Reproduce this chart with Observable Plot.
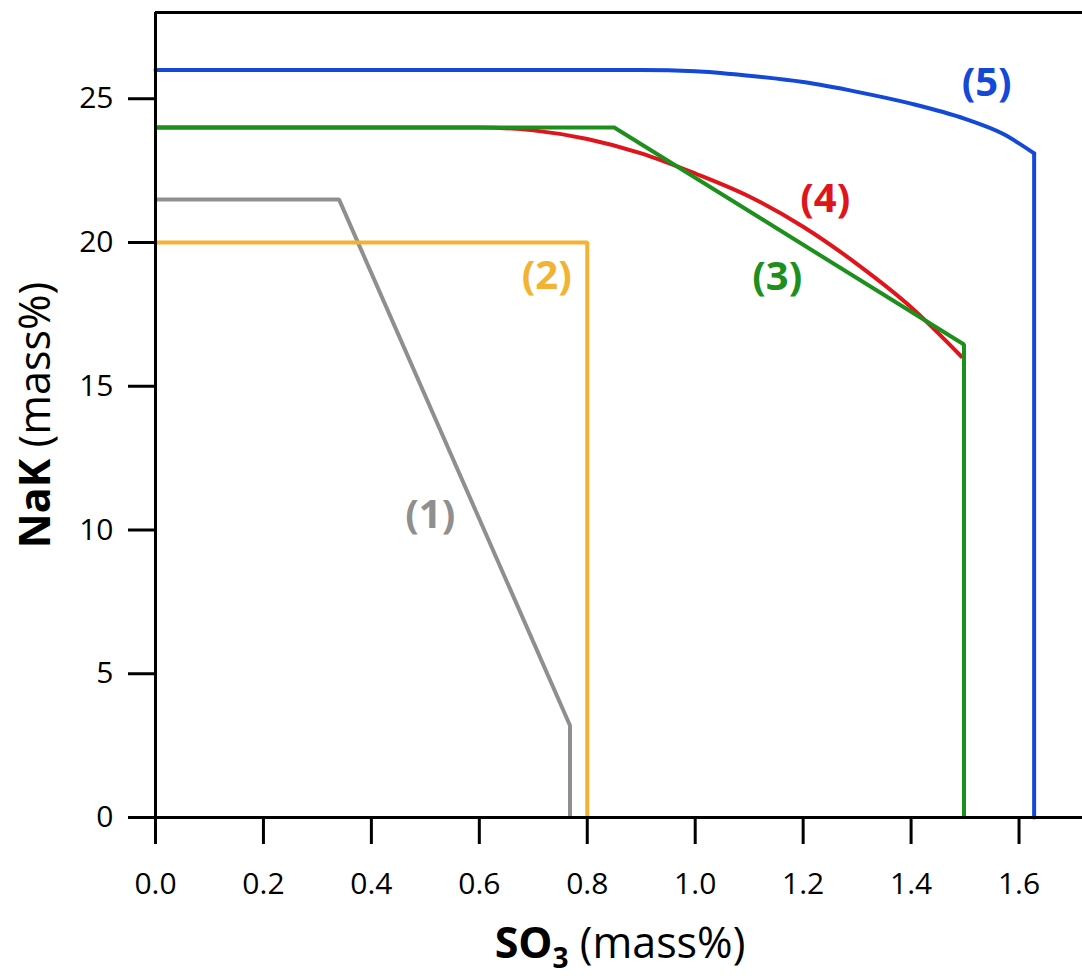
<!DOCTYPE html>
<html>
<head>
<meta charset="utf-8">
<script src="https://cdn.jsdelivr.net/npm/d3@7"></script>
<script src="https://cdn.jsdelivr.net/npm/@observablehq/plot@0.6"></script>
<style>
  html, body { margin: 0; padding: 0; background: #fff; }
  #chart svg { display: block; }
</style>
</head>
<body>
<div id="chart"></div>
<script>
// ---- data ----
const xTicks = [0, 0.2, 0.4, 0.6, 0.8, 1.0, 1.2, 1.4, 1.6];
const yTicks = [0, 5, 10, 15, 20, 25];

const s1X = [0, 0.34, 0.768, 0.768];
const s1Y = [21.5, 21.5, 3.2, 0];

const s2X = [0, 0.80, 0.80];
const s2Y = [20, 20, 0];

const s3X = [0, 0.85, 1.498, 1.498];
const s3Y = [24, 24, 16.45, 0];

const s4X = [0, 0.6, 0.7, 0.8, 0.9, 1.0, 1.1, 1.2, 1.3, 1.4, 1.495];
const s4Y = [24, 24, 23.9, 23.6, 23.1, 22.4, 21.6, 20.55, 19.25, 17.75, 16.0];

const s5X = [0, 0.9, 1.0, 1.1, 1.2, 1.3, 1.4, 1.5, 1.57, 1.628, 1.628];
const s5Y = [26, 26, 25.96, 25.8, 25.58, 25.24, 24.83, 24.3, 23.78, 23.1, 0];

const labels = ["(1)", "(2)", "(3)", "(4)", "(5)"];
const labelX = [0.509, 0.725, 1.152, 1.241, 1.540];
const labelY = [10.5, 18.84, 18.78, 21.5, 25.55];

const colors = ["#8f8f8f", "#f4b232", "#1c8f1c", "#e0151c", "#1448d6"];

// ---- build tables ----
const toRows = (xs, ys) => xs.map((x, i) => ({x, y: ys[i]}));
const d1 = toRows(s1X, s1Y);
const d2 = toRows(s2X, s2Y);
const d3r = toRows(s3X, s3Y);
const d4 = toRows(s4X, s4Y);
const d5 = toRows(s5X, s5Y);
const d5curve = d5.slice(0, d5.length - 1);
const d5drop = d5.slice(d5.length - 2);
const labelRows = labels.map((t, i) => ({t, x: labelX[i], y: labelY[i], c: colors[i]}));

const lineOpts = {x: "x", y: "y", strokeWidth: 4, strokeLinejoin: "miter", strokeLinecap: "butt"};

const chart = Plot.plot({
  width: 1082,
  height: 978,
  marginLeft: 155,
  marginRight: 0,
  marginTop: 12,
  marginBottom: 161,
  x: {domain: [0, 1.7176]},
  y: {domain: [0, 28]},
  style: {fontFamily: "'Open Sans', sans-serif", background: "#fff", color: "#000", fontSize: "30px"},
  marks: [
    Plot.axisY({ticks: yTicks, tickSize: 27, tickPadding: 15, fontSize: 30, strokeWidth: 3, label: null, tickFormat: d => String(d)}),
    Plot.axisX({ticks: xTicks, tickSize: 27, tickPadding: 28, fontSize: 30, strokeWidth: 3, label: null, tickFormat: d3.format(".1f")}),
    Plot.line(d1, {...lineOpts, stroke: colors[0]}),
    Plot.line(d2, {...lineOpts, stroke: colors[1]}),
    Plot.line(d4, {...lineOpts, stroke: colors[3], curve: "monotone-x"}),
    Plot.line(d3r, {...lineOpts, stroke: colors[2]}),
    Plot.line(d5curve, {...lineOpts, stroke: colors[4], curve: "monotone-x", strokeLinecap: "round"}),
    Plot.line(d5drop, {...lineOpts, stroke: colors[4], strokeLinecap: "round"}),
    Plot.ruleX([0], {stroke: "#000", strokeWidth: 3}),
    Plot.ruleY([0, 28], {stroke: "#000", strokeWidth: 3}),
    Plot.text(labelRows, {x: "x", y: "y", text: "t", fill: "c", fontSize: 40, fontWeight: "bold", textAnchor: "middle", lineAnchor: "middle"})
  ]
});

const svg = d3.select(chart);
// x-axis title
const xt = svg.append("text")
  .attr("x", 620).attr("y", 958)
  .attr("text-anchor", "middle")
  .attr("font-family", "'Open Sans', sans-serif")
  .attr("font-size", 43)
  .attr("fill", "#000");
xt.append("tspan").attr("font-weight", "bold").text("SO");
xt.append("tspan").attr("font-weight", "bold").attr("font-size", 28).attr("dy", 10).text("3");
xt.append("tspan").attr("dy", -10).text(" (mass%)");

// y-axis title
const yt = svg.append("text")
  .attr("transform", "translate(50,415) rotate(-90)")
  .attr("text-anchor", "middle")
  .attr("font-family", "'Open Sans', sans-serif")
  .attr("font-size", 43)
  .attr("fill", "#000");
yt.append("tspan").attr("font-weight", "bold").text("NaK");
yt.append("tspan").text(" (mass%)");

document.getElementById("chart").appendChild(chart);
</script>
</body>
</html>
